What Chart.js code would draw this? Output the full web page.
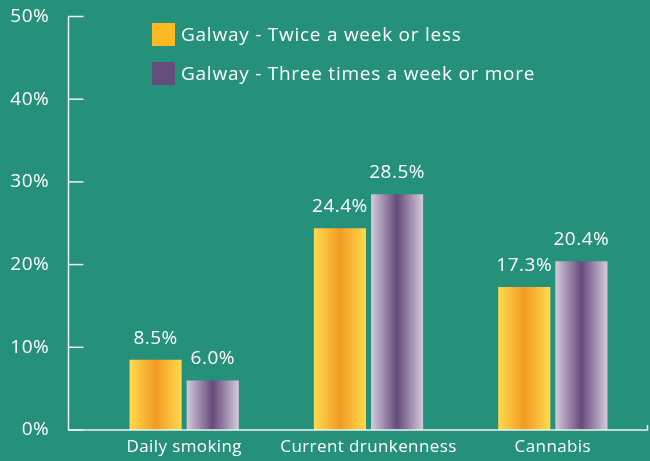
<!DOCTYPE html>
<html>
<head>
<meta charset="utf-8">
<script src="https://cdn.jsdelivr.net/npm/chart.js@4"></script>
<style>
html,body{margin:0;padding:0;background:#26917B;}
#wrap{width:650px;height:461px;position:relative;}
</style>
</head>
<body>
<div id="wrap"><canvas id="c" width="650" height="461"></canvas></div>
<script>
const categories = ["Daily smoking", "Current drunkenness", "Cannabis"];
const seriesNames = ["Galway - Twice a week or less", "Galway - Three times a week or more"];
const twiceOrLess = [8.5, 24.4, 17.3];
const threeOrMore = [6.0, 28.5, 20.4];
const yTicks = [0, 10, 20, 30, 40, 50];

const FONT = "'Open Sans', sans-serif";
const WHITE = "#FFFFFF";
const LINE = "#EAF3F1";
const solid = ["#FDB924", "#644C7B"];
const gradStops = [
  ["#FFDA4E", "#F29B22", "#FFDA4E"],
  ["#D6CADD", "#654A7B", "#D6CADD"]
];

const spacing = {
  id: 'spacing',
  beforeDraw(chart) { chart.ctx.letterSpacing = '0.4px'; }
};

const gradientBars = {
  id: 'gradientBars',
  beforeDatasetsDraw(chart) {
    const ctx = chart.ctx;
    chart.data.datasets.forEach((ds, di) => {
      const meta = chart.getDatasetMeta(di);
      meta.data.forEach(el => {
        const x0 = el.x - el.width / 2, x1 = el.x + el.width / 2;
        const g = ctx.createLinearGradient(x0, 0, x1, 0);
        const s = gradStops[di];
        g.addColorStop(0, s[0]);
        g.addColorStop(0.5, s[1]);
        g.addColorStop(1, s[2]);
        el.options = Object.assign({}, el.options, {backgroundColor: g});
      });
    });
  }
};

const axesAndLabels = {
  id: 'axesAndLabels',
  afterDatasetsDraw(chart) {
    const ctx = chart.ctx;
    const y = chart.scales.y;
    const axisX = 68.5;
    const yTop = y.getPixelForValue(50);
    const yBot = y.getPixelForValue(0);
    ctx.save();
    ctx.strokeStyle = LINE;
    ctx.lineWidth = 1.5;
    ctx.beginPath();
    ctx.moveTo(axisX, yTop);
    ctx.lineTo(axisX, yBot);
    ctx.lineTo(647.5, yBot);
    ctx.lineTo(647.5, yBot - 5);
    ctx.stroke();
    yTicks.forEach(v => {
      const py = y.getPixelForValue(v);
      ctx.beginPath();
      ctx.moveTo(axisX, py);
      ctx.lineTo(83.5, py);
      ctx.stroke();
    });
    // value labels
    ctx.fillStyle = WHITE;
    ctx.letterSpacing = '0.5px';
    ctx.font = "19px " + FONT;
    ctx.textAlign = "center";
    ctx.textBaseline = "alphabetic";
    chart.data.datasets.forEach((ds, di) => {
      chart.getDatasetMeta(di).data.forEach((el, i) => {
        ctx.fillText(ds.data[i].toFixed(1) + "%", el.x, el.y - 16);
      });
    });
    // legend
    ctx.textAlign = "left";
    ctx.textBaseline = "middle";
    ctx.letterSpacing = '0.75px';
    ctx.font = "19px " + FONT;
    chart.data.datasets.forEach((ds, di) => {
      const top = 23 + di * 39;
      ctx.fillStyle = solid[di];
      ctx.fillRect(152, top, 23, 23);
      ctx.fillStyle = WHITE;
      ctx.fillText(ds.label, 181, top + 13);
    });
    ctx.restore();
  }
};

new Chart(document.getElementById('c'), {
  type: 'bar',
  data: {
    labels: categories,
    datasets: [
      {label: seriesNames[0], data: twiceOrLess, backgroundColor: solid[0], borderWidth: 0},
      {label: seriesNames[1], data: threeOrMore, backgroundColor: solid[1], borderWidth: 0}
    ]
  },
  options: {
    responsive: false,
    animation: false,
    events: [],
    categoryPercentage: 0.62,
    barPercentage: 0.912,
    layout: {padding: {top: 16.5, right: 5, left: 0, bottom: 0}},
    plugins: {legend: {display: false}, tooltip: {enabled: false}},
    scales: {
      x: {
        grid: {display: false, drawTicks: false},
        border: {display: false},
        ticks: {color: WHITE, font: {family: FONT, size: 17}, padding: 7},
        afterFit(s) { s.height = 31; s.paddingLeft = 0; s.paddingRight = 0; }
      },
      y: {
        min: 0, max: 50,
        grid: {display: false, drawTicks: false},
        border: {display: false},
        ticks: {
          stepSize: 10, color: WHITE, font: {family: FONT, size: 19}, padding: 43,
          callback: v => v + "%"
        },
        afterFit(s) { s.width = 92; s.paddingTop = 0; s.paddingBottom = 0; }
      }
    }
  },
  plugins: [spacing, gradientBars, axesAndLabels]
});
</script>
</body>
</html>
